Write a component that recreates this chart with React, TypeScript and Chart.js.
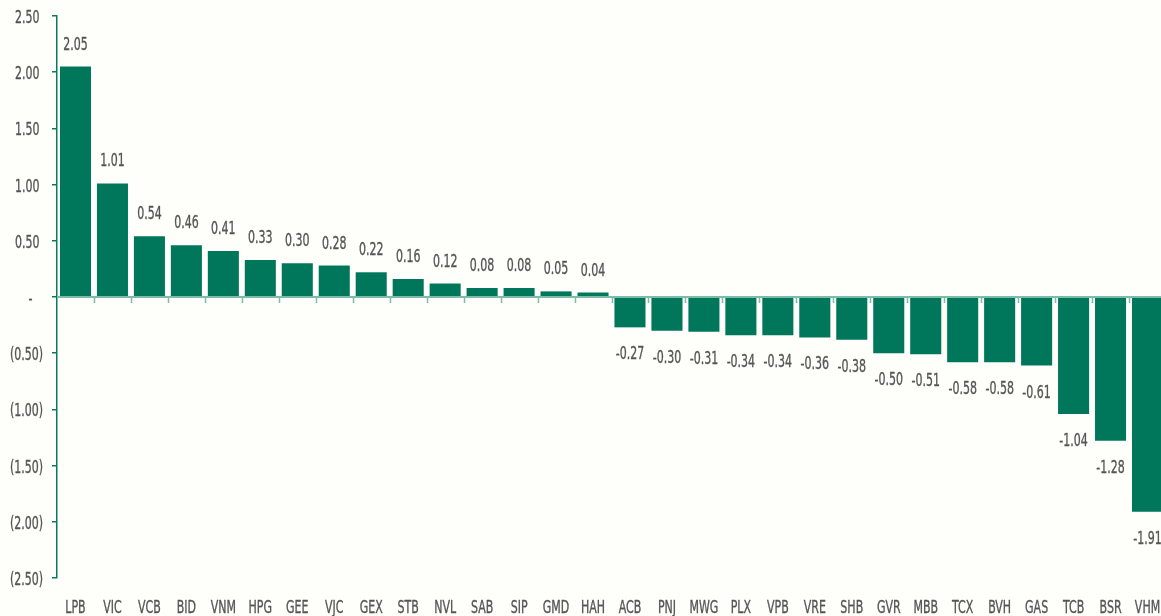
import React, { useEffect, useRef } from "react";
import { Chart, registerables } from "chart.js";

Chart.register(...registerables);

const categories = ["LPB","VIC","VCB","BID","VNM","HPG","GEE","VJC","GEX","STB","NVL","SAB","SIP","GMD","HAH","ACB","PNJ","MWG","PLX","VPB","VRE","SHB","GVR","MBB","TCX","BVH","GAS","TCB","BSR","VHM"];
const values = [2.05,1.01,0.54,0.46,0.41,0.33,0.30,0.28,0.22,0.16,0.12,0.08,0.08,0.05,0.04,-0.27,-0.30,-0.31,-0.34,-0.34,-0.36,-0.38,-0.50,-0.51,-0.58,-0.58,-0.61,-1.04,-1.28,-1.91];
const yTicks = [2.5, 2.0, 1.5, 1.0, 0.5, 0, -0.5, -1.0, -1.5, -2.0, -2.5];
const yMin = -2.5;
const yMax = 2.5;
const yStep = 0.5;

const FONT = "18px 'DejaVu Sans Condensed', 'Liberation Sans Narrow', sans-serif";
const SX = 0.68;
const TEXT = "#555555";
const BAR = "#00775A";
const AXIS = "#0B7A5C";
const ZERO = "#7DBBA9";
const BG = "#FEFEFA";

function fmtAxis(v: number): string {
  if (Math.abs(v) < 1e-9) return "-   ";
  if (v < 0) return "(" + Math.abs(v).toFixed(2) + ")";
  return v.toFixed(2) + " ";
}

function drawText(ctx: CanvasRenderingContext2D, text: string, x: number, y: number, align: CanvasTextAlign) {
  ctx.save();
  ctx.translate(x, y);
  ctx.scale(SX, 1);
  ctx.textAlign = align;
  ctx.textBaseline = "alphabetic";
  ctx.fillText(text, 0, 0);
  ctx.strokeStyle = TEXT;
  ctx.lineWidth = 0.35;
  ctx.lineJoin = "round";
  ctx.strokeText(text, 0, 0);
  ctx.restore();
}

const overlayPlugin = {
  id: "overlay",
  afterDatasetsDraw(chart: any) {
    const ctx = chart.ctx;
    const xs = chart.scales.x;
    const ys = chart.scales.y;
    const area = chart.chartArea;
    const y0 = ys.getPixelForValue(0);
    ctx.save();
    // zero line
    ctx.strokeStyle = ZERO;
    ctx.lineWidth = 2;
    ctx.beginPath();
    ctx.moveTo(area.left, y0);
    ctx.lineTo(area.right, y0);
    ctx.stroke();
    // tick marks between categories
    ctx.lineWidth = 1.5;
    for (let i = 1; i < categories.length; i++) {
      const x = Math.round(xs.getPixelForValue(i - 0.5)) + 0.5;
      ctx.beginPath();
      ctx.moveTo(x, y0);
      ctx.lineTo(x, y0 + 6);
      ctx.stroke();
    }
    ctx.fillStyle = TEXT;
    ctx.font = FONT;
    // data labels
    const meta = chart.getDatasetMeta(0);
    meta.data.forEach((el: any, i: number) => {
      const v = values[i];
      const label = v.toFixed(2);
      if (v >= 0) {
        drawText(ctx, label, el.x, el.y - 17, "center");
      } else {
        drawText(ctx, label, el.x, el.y + 32, "center");
      }
    });
    // category labels
    categories.forEach((c, i) => {
      drawText(ctx, c, xs.getPixelForValue(i), area.bottom + 35, "center");
    });
    // value axis labels
    yTicks.forEach((t) => {
      drawText(ctx, fmtAxis(t), area.left - 14, ys.getPixelForValue(t) + 7, "right");
    });
    ctx.restore();
  },
};

const bgPlugin = {
  id: "bg",
  beforeDraw(chart: any) {
    const ctx = chart.ctx;
    ctx.save();
    ctx.fillStyle = BG;
    ctx.fillRect(0, 0, chart.width, chart.height);
    ctx.restore();
  },
};

export default function App() {
  const ref = useRef<HTMLCanvasElement | null>(null);

  useEffect(() => {
    document.body.style.margin = "0";
    document.body.style.background = BG;
    document.body.style.overflow = "hidden";
    if (!ref.current) return;
    const chart = new Chart(ref.current, {
      type: "bar",
      data: {
        labels: categories,
        datasets: [
          {
            data: values,
            backgroundColor: BAR,
            borderWidth: 0,
            categoryPercentage: 1,
            barPercentage: 0.84,
          },
        ],
      },
      options: {
        animation: false,
        responsive: false,
        maintainAspectRatio: false,
        layout: { padding: { top: 16, left: 0, right: 4, bottom: 0 } },
        plugins: {
          legend: { display: false },
          tooltip: { enabled: false },
        },
        scales: {
          x: {
            position: "bottom",
            offset: true,
            grid: { display: false, drawTicks: false },
            border: { display: false },
            ticks: { display: false, padding: 0, autoSkip: false, maxRotation: 0 },
            afterFit(scale: any) {
              scale.height = 38;
            },
          },
          y: {
            min: yMin,
            max: yMax,
            grid: {
              display: true,
              drawOnChartArea: false,
              drawTicks: true,
              tickLength: 5,
              color: AXIS,
              lineWidth: 1.5,
            },
            border: { display: true, color: AXIS, width: 1.5 },
            ticks: { display: false, stepSize: yStep, padding: 0 },
            afterFit(scale: any) {
              scale.width = 57;
            },
          },
        },
      },
      plugins: [bgPlugin, overlayPlugin],
    });
    return () => chart.destroy();
  }, []);

  return (
    <div style={{ position: "fixed", left: 0, top: 0, width: 1161, height: 616, overflow: "hidden", background: BG }}>
      <canvas ref={ref} width={1170} height={616} style={{ display: "block", width: 1170, height: 616 }} />
    </div>
  );
}
